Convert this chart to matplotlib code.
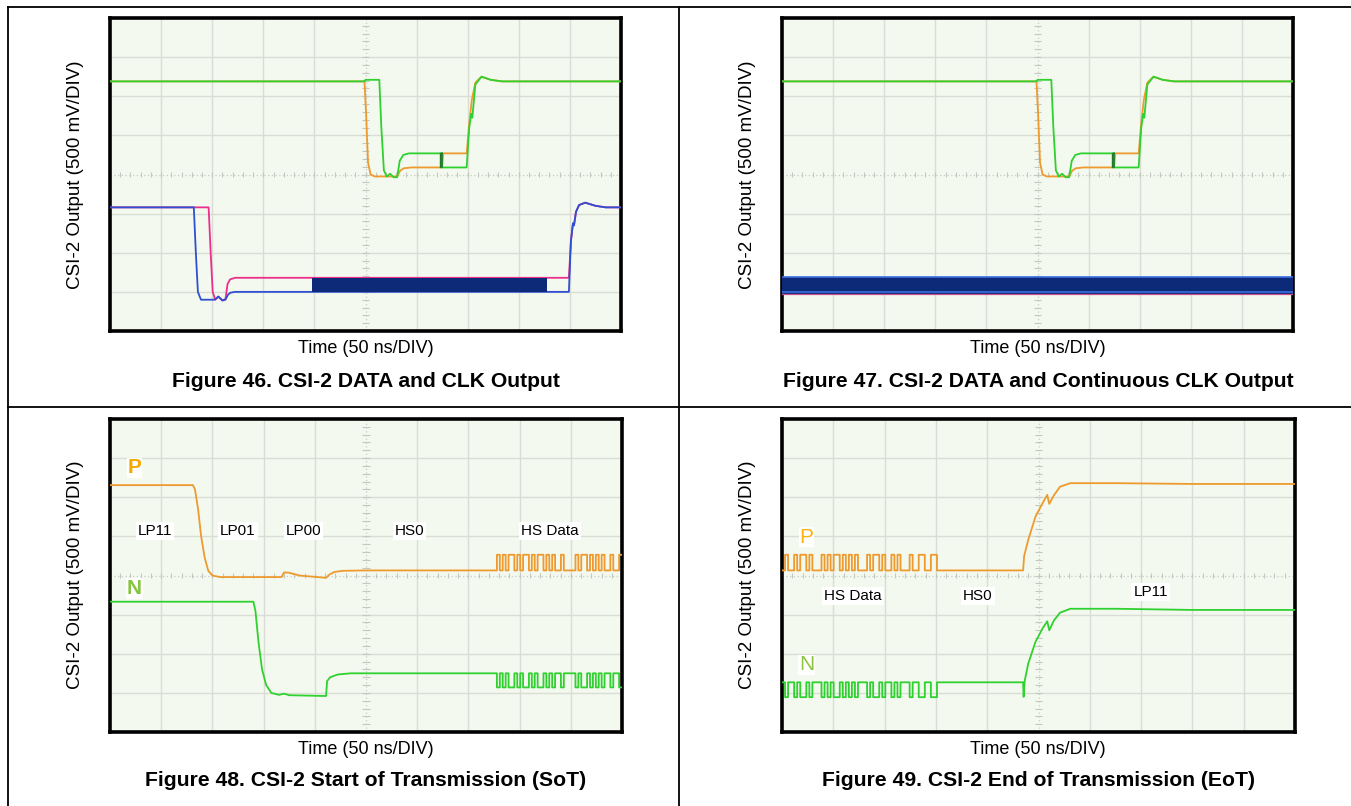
import numpy as np
import matplotlib
matplotlib.use("Agg")
import matplotlib.pyplot as plt
from matplotlib.lines import Line2D

plt.rcParams['font.family'] = ['Liberation Sans', 'DejaVu Sans']

W, H = 1351, 806

# ---- waveform breakpoints (x in divisions 0..10, y in divisions 0..8) ----
# Figure 46 / 47: DATA lane (same in both shots)
data_org_x = [0, 4.98, 5.01, 5.05, 5.10, 5.18, 5.62, 5.68, 5.75, 5.90, 6.50, 6.52, 6.98, 7.03, 7.08, 7.15, 7.27, 7.45, 7.67, 10]
data_org_y = [6.38, 6.38, 5.6, 4.3, 4.0, 3.95, 3.95, 4.10, 4.16, 4.18, 4.18, 4.54, 4.54, 5.3, 5.9, 6.35, 6.50, 6.42, 6.38, 6.38]
data_grn_x = [0, 4.98, 5.00, 5.27, 5.31, 5.36, 5.42, 5.48, 5.55, 5.62, 5.67, 5.74, 5.85, 6.48, 6.50, 6.98, 7.03, 7.07, 7.09, 7.15, 7.27, 7.45, 7.67, 10]
data_grn_y = [6.38, 6.38, 6.42, 6.42, 5.2, 4.1, 3.95, 4.02, 3.93, 3.93, 4.35, 4.50, 4.54, 4.54, 4.18, 4.18, 5.2, 5.55, 5.45, 6.3, 6.50, 6.42, 6.38, 6.38]

# Figure 46: CLK lane
clk_blu_x = [0, 1.64, 1.68, 1.72, 1.78, 2.05, 2.12, 2.20, 2.26, 2.31, 2.36, 2.45, 8.98, 9.02, 9.06, 9.08, 9.12, 9.18, 9.30, 9.50, 9.70, 10]
clk_blu_y = [3.16, 3.16, 2.0, 1.0, 0.80, 0.80, 0.88, 0.78, 0.80, 0.93, 0.98, 1.0, 1.0, 2.3, 2.75, 2.70, 3.05, 3.22, 3.28, 3.20, 3.16, 3.16]
clk_pnk_x = [0, 1.93, 1.97, 2.01, 2.06, 2.12, 2.20, 2.26, 2.30, 2.35, 2.45, 8.98, 9.02, 9.06, 9.08, 9.12, 9.18, 9.30, 9.50, 9.70, 10]
clk_pnk_y = [3.16, 3.16, 2.0, 1.0, 0.80, 0.88, 0.78, 0.82, 1.20, 1.32, 1.36, 1.36, 2.3, 2.75, 2.70, 3.05, 3.22, 3.28, 3.20, 3.16, 3.16]
clk_burst = (3.96, 8.56, 1.0, 1.36)       # x start, x end, y low, y high
clk_cont = (0.0, 10.0, 0.94, 1.37)        # Figure 47 continuous clock

# Figure 48: SoT
sot_p_x = [0, 1.62, 1.66, 1.72, 1.78, 1.85, 1.92, 2.00, 2.15, 3.35, 3.40, 3.50, 3.70, 4.22, 4.28, 4.38, 4.55, 5.0, 7.5]
sot_p_y = [6.31, 6.31, 6.2, 5.7, 5.0, 4.45, 4.12, 4.0, 3.96, 3.96, 4.08, 4.07, 4.0, 3.94, 4.02, 4.09, 4.12, 4.13, 4.13]
sot_n_x = [0, 2.80, 2.84, 2.90, 2.97, 3.05, 3.15, 3.30, 3.40, 3.50, 4.22, 4.24, 4.30, 4.45, 4.70, 7.5]
sot_n_y = [3.33, 3.33, 3.1, 2.3, 1.6, 1.2, 1.0, 0.95, 0.98, 0.94, 0.92, 1.30, 1.40, 1.47, 1.50, 1.50]
sot_bits = [0, 1, 0, 1, 0, 1, 1, 0, 1, 0, 1, 1, 0, 1, 0, 1, 1, 0, 1, 0, 1, 0, 0, 1, 0, 0, 0, 0,
            1, 0, 1, 1, 0, 1, 0, 1, 0, 1, 0, 0, 1, 0, 0, 1]
sot_hs_start = 7.5
sot_p_lev = (4.13, 4.53)
sot_n_lev = (1.50, 1.14)
sot_labels = ["LP11", "LP01", "LP00", "HS0", "HS Data"]
sot_label_x = [0.88, 2.50, 3.78, 5.85, 8.59]
sot_label_y = 5.14

# Figure 49: EoT
eot_bits = [0, 1, 0, 0, 1, 0, 1, 1, 0, 1, 0, 0, 0, 1, 0, 1, 0, 1, 1, 0, 1, 0, 1, 0, 1, 0, 0, 0, 1, 0, 1,
            1, 0, 1, 0, 0, 1, 0, 1, 0, 0, 0, 1, 0, 0, 1, 1, 0, 0, 1, 1, 0]
eot_hs_end = 3.08
eot_p_lev = (4.13, 4.53)
eot_n_lev = (1.27, 0.89)
eot_p_x = [3.08, 4.70, 4.72, 4.80, 4.94, 5.08, 5.17, 5.21, 5.30, 5.42, 5.62, 6.5, 8.0, 10]
eot_p_y = [4.13, 4.13, 4.5, 4.91, 5.5, 5.85, 6.06, 5.83, 6.05, 6.27, 6.36, 6.36, 6.34, 6.34]
eot_n_x = [3.08, 4.70, 4.71, 4.73, 4.80, 4.94, 5.08, 5.17, 5.21, 5.30, 5.42, 5.62, 6.5, 8.0, 10]
eot_n_y = [1.27, 1.27, 0.90, 1.30, 1.75, 2.30, 2.65, 2.83, 2.60, 2.85, 3.05, 3.15, 3.15, 3.12, 3.12]
eot_labels = ["HS Data", "HS0", "LP11"]
eot_label_x = [1.38, 3.82, 7.19]
eot_label_y = [3.47, 3.47, 3.57]

titles = ["Figure 46. CSI-2 DATA and CLK Output",
          "Figure 47. CSI-2 DATA and Continuous CLK Output",
          "Figure 48. CSI-2 Start of Transmission (SoT)",
          "Figure 49. CSI-2 End of Transmission (EoT)"]

GREEN = '#2fd12f'
ORANGE = '#ee9a2e'
BLUE = '#2f4fd0'
PINK = '#ec2f8c'
NAVY = '#0c2a78'
BG = '#f3f9ee'


def bits_to_steps(x0, ui, bits, lo, hi):
    xs, ys = [], []
    for i, b in enumerate(bits):
        v = hi if b else lo
        xs += [x0 + i * ui, x0 + (i + 1) * ui]
        ys += [v, v]
    return xs, ys


def make_scope(left, right, top, bottom):
    ax = fig.add_axes([left / W, 1 - bottom / H, (right - left) / W, (bottom - top) / H])
    ax.set_facecolor(BG)
    ax.set_xlim(0, 10)
    ax.set_ylim(0, 8)
    ax.set_xticks([])
    ax.set_yticks([])
    for s in ax.spines.values():
        s.set_linewidth(2.6)
        s.set_color('black')
    for gx in range(1, 10):
        if gx != 5:
            ax.axvline(gx, color='#d9ddd5', lw=1.0, zorder=0)
    for gy in range(1, 8):
        if gy != 4:
            ax.axhline(gy, color='#d9ddd5', lw=1.0, zorder=0)
    ax.axvline(5, color='#c9cdc5', lw=0.9, ls=(0, (1, 2)), zorder=0)
    ax.axhline(4, color='#c9cdc5', lw=0.9, ls=(0, (1, 2)), zorder=0)
    tx = np.arange(0.2, 10, 0.2)
    ty = np.arange(0.2, 8, 0.2)
    ax.vlines(tx, 3.94, 4.06, color='#c4c8c0', lw=0.8, zorder=0)
    ax.hlines(ty, 4.93, 5.07, color='#c4c8c0', lw=0.8, zorder=0)
    return ax


def panel_text(cx, y_xlab, y_title, x_ylab, cy, title):
    fig.text(cx / W, 1 - y_xlab / H, "Time (50 ns/DIV)", ha='center', va='center', fontsize=13)
    fig.text(cx / W, 1 - y_title / H, title, ha='center', va='center', fontsize=15.2, fontweight='bold')
    fig.text(x_ylab / W, 1 - cy / H, "CSI-2 Output (500 mV/DIV)", ha='center', va='center',
             rotation=90, fontsize=13.5)


fig = plt.figure(figsize=(W / 100, H / 100), dpi=100)
fig.patch.set_facecolor('white')

# table frame
fig.add_artist(Line2D([8 / W, 8 / W], [0, 1 - 7 / H], color='black', lw=1.3))
fig.add_artist(Line2D([8 / W, 1], [1 - 7 / H, 1 - 7 / H], color='black', lw=1.3))
fig.add_artist(Line2D([679 / W, 679 / W], [0, 1 - 7 / H], color='black', lw=1.3))
fig.add_artist(Line2D([8 / W, 1], [1 - 407 / H, 1 - 407 / H], color='black', lw=1.3))

# ---- Figure 46 ----
ax1 = make_scope(110, 621, 18, 331)
ax1.plot(clk_pnk_x, clk_pnk_y, color=PINK, lw=1.3, zorder=3)
ax1.plot(clk_blu_x, clk_blu_y, color=BLUE, lw=1.3, zorder=4)
ax1.fill_between([clk_burst[0], clk_burst[1]], clk_burst[2], clk_burst[3], color=NAVY, lw=0, zorder=5)
ax1.plot(data_org_x, data_org_y, color=ORANGE, lw=1.3, zorder=3)
ax1.plot(data_grn_x, data_grn_y, color=GREEN, lw=1.3, zorder=4)
ax1.plot([6.50, 6.50], [4.18, 4.54], color='#1f7a2a', lw=1.2, zorder=5)
ax1.plot([6.45, 6.45], [4.18, 4.54], color='#1f7a2a', lw=1.0, zorder=5)
panel_text(366, 349, 381, 75, 175, titles[0])

# ---- Figure 47 ----
ax2 = make_scope(782, 1293, 18, 331)
ax2.fill_between([clk_cont[0], clk_cont[1]], clk_cont[2], clk_cont[3], color=NAVY, lw=0, zorder=3)
ax2.plot([clk_cont[0], clk_cont[1]], [clk_cont[3], clk_cont[3]], color='#3a6ee0', lw=1.2, zorder=4)
ax2.plot([clk_cont[0], clk_cont[1]], [clk_cont[2] + 0.06, clk_cont[2] + 0.06], color='#3a6ee0', lw=1.2, zorder=4)
ax2.plot([clk_cont[0], clk_cont[1]], [clk_cont[2], clk_cont[2]], color='#c8508e', lw=0.9, zorder=4)
ax2.plot(data_org_x, data_org_y, color=ORANGE, lw=1.3, zorder=3)
ax2.plot(data_grn_x, data_grn_y, color=GREEN, lw=1.3, zorder=4)
ax2.plot([6.50, 6.50], [4.18, 4.54], color='#1f7a2a', lw=1.2, zorder=5)
ax2.plot([6.45, 6.45], [4.18, 4.54], color='#1f7a2a', lw=1.0, zorder=5)
panel_text(1038, 349, 381, 748, 175, titles[1])

# ---- Figure 48 ----
ax3 = make_scope(110, 622, 419, 732)
ui3 = (10 - sot_hs_start) / len(sot_bits)
hx, hy = bits_to_steps(sot_hs_start, ui3, sot_bits, sot_p_lev[0], sot_p_lev[1])
ax3.plot(sot_p_x + hx, sot_p_y + hy, color=ORANGE, lw=1.3, zorder=3)
hx, hy = bits_to_steps(sot_hs_start, ui3, sot_bits, sot_n_lev[0], sot_n_lev[1])
ax3.plot(sot_n_x + hx, sot_n_y + hy, color=GREEN, lw=1.3, zorder=3)
for lab, lx in zip(sot_labels, sot_label_x):
    ax3.text(lx, sot_label_y, lab, ha='center', va='center', fontsize=11, zorder=6,
             bbox=dict(facecolor='white', edgecolor='none', pad=1.5))
ax3.text(0.48, 6.75, "P", color='#f5a800', fontsize=15, fontweight='bold', ha='center', va='center',
         zorder=6, bbox=dict(facecolor='white', edgecolor='none', pad=0.5))
ax3.text(0.48, 3.67, "N", color='#86c440', fontsize=15, fontweight='bold', ha='center', va='center',
         zorder=6, bbox=dict(facecolor='white', edgecolor='none', pad=0.5))
panel_text(366, 749, 780, 75, 575, titles[2])

# ---- Figure 49 ----
ax4 = make_scope(782, 1295, 419, 732)
ui4 = eot_hs_end / len(eot_bits)
hx, hy = bits_to_steps(0, ui4, eot_bits, eot_p_lev[0], eot_p_lev[1])
ax4.plot(hx + eot_p_x, hy + eot_p_y, color=ORANGE, lw=1.3, zorder=3)
hx, hy = bits_to_steps(0, ui4, eot_bits, eot_n_lev[0], eot_n_lev[1])
ax4.plot(hx + eot_n_x, hy + eot_n_y, color=GREEN, lw=1.3, zorder=3)
for lab, lx, ly in zip(eot_labels, eot_label_x, eot_label_y):
    ax4.text(lx, ly, lab, ha='center', va='center', fontsize=11, zorder=6,
             bbox=dict(facecolor='white', edgecolor='none', pad=1.5))
ax4.text(0.48, 4.98, "P", color='#fbb40f', fontsize=15, ha='center', va='center', zorder=6,
         bbox=dict(facecolor='white', edgecolor='none', pad=0.5))
ax4.text(0.48, 1.72, "N", color='#8cc63f', fontsize=15, ha='center', va='center', zorder=6,
         bbox=dict(facecolor='white', edgecolor='none', pad=0.5))
panel_text(1038, 749, 780, 748, 575, titles[3])

fig.savefig('out.png', dpi=100, facecolor='white')
